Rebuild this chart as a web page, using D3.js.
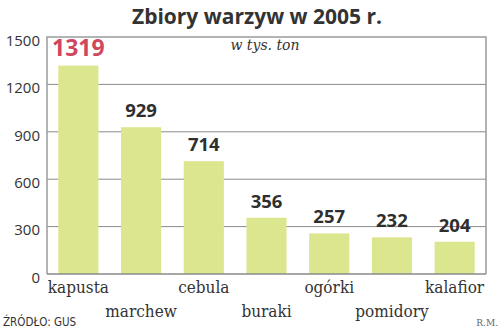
<!DOCTYPE html>
<html><head><meta charset="utf-8">
<script src="https://cdn.jsdelivr.net/npm/d3@7"></script>
<style>body{margin:0;background:#fff}svg{display:block}</style>
</head><body><svg id="c" width="500" height="330"></svg>
<script>
const categories = ["kapusta","marchew","cebula","buraki","ogórki","pomidory","kalafior"];
const values = [1319, 929, 714, 356, 257, 232, 204];
const yTicks = [0, 300, 600, 900, 1200, 1500];
const title = "Zbiory warzyw w 2005 r.";
const unit = "w tys. ton";
const source = "ŹRÓDŁO: GUS";
const author = "R.M.";

const svg = d3.select("#c");
const L = 47, R = 486, T = 37, B = 274;
const x = d3.scaleBand().domain(categories).range([L, R]).paddingInner(0.36).paddingOuter(0.18);
const y = d3.scaleLinear().domain([0, 1500]).range([B, T]);

svg.append("text").attr("x", 257).attr("y", 24).attr("text-anchor", "middle")
  .style("font-family", "Open Sans").style("font-weight", "bold").style("font-size", "21px")
  .attr("fill", "#333").text(title);

// gridlines
svg.append("g").selectAll("line").data(yTicks.filter(d => d > 0 && d < 1500)).join("line")
  .attr("x1", L).attr("x2", R).attr("y1", d => y(d)).attr("y2", d => y(d))
  .attr("stroke", "#8a8a8a").attr("stroke-width", 1);

// box
svg.append("path").attr("d", `M${L},${B}V${T}H${R}V${B}`).attr("fill", "none")
  .attr("stroke", "#9a9a9a").attr("stroke-width", 1.5);

svg.append("text").attr("x", 265).attr("y", 50).attr("text-anchor", "middle")
  .style("font-family", "'DejaVu Serif', serif").style("font-style", "italic").style("font-size", "14px")
  .attr("fill", "#333").text(unit);

// bars
svg.append("g").selectAll("rect").data(values).join("rect")
  .attr("x", (d, i) => x(categories[i])).attr("width", x.bandwidth())
  .attr("y", d => y(d)).attr("height", d => y(0) - y(d)).attr("fill", "#dce68f");

// axis baseline
svg.append("line").attr("x1", L).attr("x2", R).attr("y1", B).attr("y2", B)
  .attr("stroke", "#8a8a8a").attr("stroke-width", 1.5);

// y ticks via axis
const yAxis = d3.axisLeft(y).tickValues(yTicks).tickFormat(d3.format("d")).tickSize(0).tickPadding(7);
const ga = svg.append("g").attr("transform", `translate(${L},0)`).call(yAxis);
ga.select(".domain").remove();
ga.selectAll("text").attr("dy", "0.55em").attr("fill", "#333")
  .style("font-family", "Open Sans").style("font-size", "15px");

// value labels
svg.append("g").selectAll("text").data(values).join("text")
  .attr("x", (d, i) => x(categories[i]) + x.bandwidth() / 2)
  .attr("y", d => y(d) - 10).attr("text-anchor", "middle")
  .style("font-family", "Open Sans").style("font-weight", "bold")
  .style("font-size", (d, i) => i === 0 ? "23px" : "18.5px")
  .attr("fill", (d, i) => i === 0 ? "#d0465e" : "#2f2f2f").text(d => d);

// category labels (alternating rows)
svg.append("g").selectAll("text").data(categories).join("text")
  .attr("x", d => x(d) + x.bandwidth() / 2)
  .attr("y", (d, i) => i % 2 === 0 ? 293 : 317).attr("text-anchor", "middle")
  .style("font-family", "'DejaVu Serif', serif").style("font-stretch", "condensed").style("font-size", "17px")
  .attr("fill", "#333").text(d => d);

svg.append("text").attr("x", 3).attr("y", 326)
  .style("font-family", "'DejaVu Sans', sans-serif").style("font-stretch", "condensed").style("font-size", "11.5px")
  .attr("fill", "#333").text(source);
svg.append("text").attr("x", 498).attr("y", 326).attr("text-anchor", "end")
  .style("font-family", "'DejaVu Serif', serif").style("font-size", "9px")
  .attr("fill", "#666").text(author);
</script></body></html>
